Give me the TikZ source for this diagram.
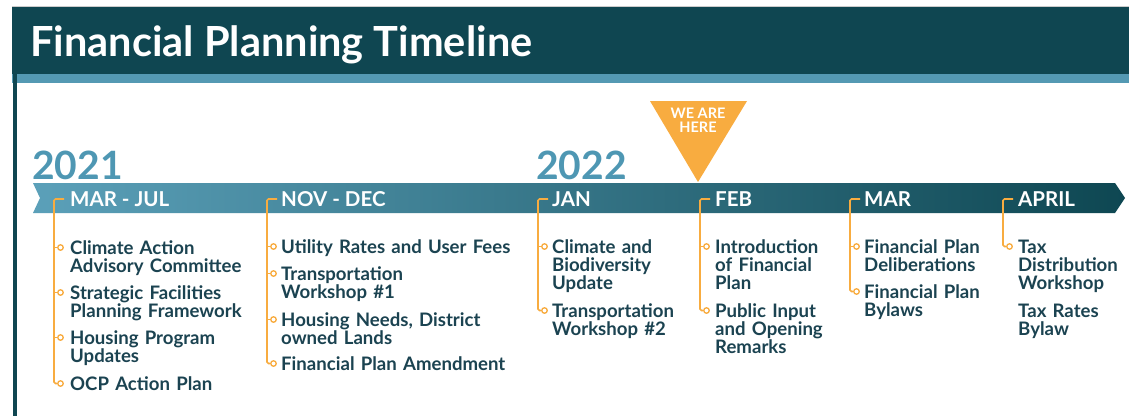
\documentclass[tikz,border=0pt]{standalone}
\usepackage{fontspec}
\setmainfont{Lato}
\definecolor{hdr}{HTML}{0F4651}
\definecolor{strip}{HTML}{5499B3}
\definecolor{yearc}{HTML}{4E97B3}
\definecolor{orng}{HTML}{F8AC40}
\definecolor{itemc}{HTML}{1B4351}
\definecolor{bandL}{HTML}{5BA0B9}
\definecolor{bandR}{HTML}{0E4752}
\tikzset{
  itemtxt/.style={anchor=base west, inner sep=0pt, text width=260pt, align=left,
    text=itemc, font=\fontsize{18.6}{18}\selectfont\bfseries},
  monthtxt/.style={anchor=base west, inner sep=0pt, text=white,
    font=\fontsize{20.5}{20}\selectfont\bfseries},
  yeartxt/.style={anchor=base west, inner sep=0pt, text=yearc,
    font=\fontsize{39}{39}\selectfont\bfseries},
  heretxt/.style={inner sep=0pt, text=white, font=\fontsize{14.5}{14.5}\selectfont\bfseries, anchor=base},
  dot/.style={circle, draw=orng, line width=1.3pt, fill=white, inner sep=0pt, minimum size=5.5pt},
  brk/.style={draw=orng, line width=1.6pt, rounded corners=1.5pt}
}
\begin{document}
\begin{tikzpicture}[x=1pt,y=-1pt]
\useasboundingbox (0,0) rectangle (1129,416);
% header
\fill[white] (0,0) rectangle (1129,416);
\fill[gray!40] (12,5.5) rectangle (1129,7);
\fill[hdr] (12,7) rectangle (1129,74);
\fill[strip] (12,74) rectangle (1129,83);
\fill[hdr] (13.3,74) rectangle (16.8,416);
\node[anchor=base west, inner sep=0pt, text=white, font=\fontsize{41.5}{41}\selectfont\bfseries] (title) at (30,56) {Financial Planning Timeline};
% band
\shade[left color=bandL, right color=bandR] (33,183) -- (1115,183) -- (1125,198) -- (1115,213) -- (33,213) -- (40,198) -- cycle;
% years
\node[yeartxt] (y2021) at (32,179) {2021};
\node[yeartxt] (y2022) at (536,179) {2022};
% we are here
\fill[orng] (650,101) -- (747,101) -- (698,182) -- cycle;
\node[heretxt] (here1) at (698,118.5) {WE ARE};
\node[heretxt] (here2) at (698,132.5) {HERE};
% months
\node[monthtxt] (m1) at (70,206) {MAR - JUL};
\node[monthtxt] (m2) at (281,206) {NOV - DEC};
\node[monthtxt] (m3) at (552,206) {JAN};
\node[monthtxt] (m4) at (715,206) {FEB};
\node[monthtxt] (m5) at (864,206) {MAR};
\node[monthtxt] (m6) at (1018,206) {APRIL};
% column 1
\node[itemtxt] (i11) at (70,254) {Climate Action\\Advisory Committee};
\node[itemtxt] (i12) at (70,299) {Strategic Facilities\\Planning Framework};
\node[itemtxt] (i13) at (70,344) {Housing Program\\Updates};
\node[itemtxt] (i14) at (70,390) {OCP Action Plan};
% column 2
\node[itemtxt] (i21) at (281,253) {Utility Rates and User Fees};
\node[itemtxt] (i22) at (281,280) {Transportation\\Workshop \#1};
\node[itemtxt] (i23) at (281,326) {Housing Needs, District\\owned Lands};
\node[itemtxt] (i24) at (281,370) {Financial Plan Amendment};
% column 3
\node[itemtxt] (i31) at (552,253) {Climate and\\Biodiversity\\Update};
\node[itemtxt] (i32) at (552,317) {Transportation\\Workshop \#2};
% column 4
\node[itemtxt] (i41) at (715,253) {Introduction\\of Financial\\Plan};
\node[itemtxt] (i42) at (715,317) {Public Input\\and Opening\\Remarks};
% column 5
\node[itemtxt] (i51) at (864,253) {Financial Plan\\Deliberations};
\node[itemtxt] (i52) at (864,298) {Financial Plan\\Bylaws};
% column 6
\node[itemtxt] (i61) at (1018,253) {Tax\\Distribution\\Workshop};
\node[itemtxt] (i62) at (1018,317) {Tax Rates\\Bylaw};
% brackets: top coordinates
\foreach \n/\x in {1/54,2/267,3/538,4/700,5/850,6/1003}{
  \coordinate (t\n) at (\x,199);
  \coordinate (e\n) at (\x+10,199);
}
% dots
\node[dot] (d11) at (60.5,247.5) {};
\node[dot] (d12) at (60.5,292.5) {};
\node[dot] (d13) at (60.5,337.5) {};
\node[dot] (d14) at (60.5,383.5) {};
\node[dot] (d21) at (273.5,246.5) {};
\node[dot] (d22) at (273.5,273.5) {};
\node[dot] (d23) at (273.5,319.5) {};
\node[dot] (d24) at (273.5,363.5) {};
\node[dot] (d31) at (544.5,246.5) {};
\node[dot] (d32) at (544.5,310.5) {};
\node[dot] (d41) at (706.5,246.5) {};
\node[dot] (d42) at (706.5,310.5) {};
\node[dot] (d51) at (856.5,246.5) {};
\node[dot] (d52) at (856.5,291.5) {};
\node[dot] (d61) at (1009.5,246.5) {};
% bracket lines
\path[brk] (e1) -- (t1) |- (d14.west);
\path[brk] (e2) -- (t2) |- (d24.west);
\path[brk] (e3) -- (t3) |- (d32.west);
\path[brk] (e4) -- (t4) |- (d42.west);
\path[brk] (e5) -- (t5) |- (d52.west);
\path[brk] (e6) -- (t6) |- (d61.west);
\foreach \c/\d in {1/d11,1/d12,1/d13,2/d21,2/d22,2/d23,3/d31,4/d41,5/d51}{
  \draw[orng, line width=1.6pt] (t\c |- \d) -- (\d.west);
}
\end{tikzpicture}
\end{document}
